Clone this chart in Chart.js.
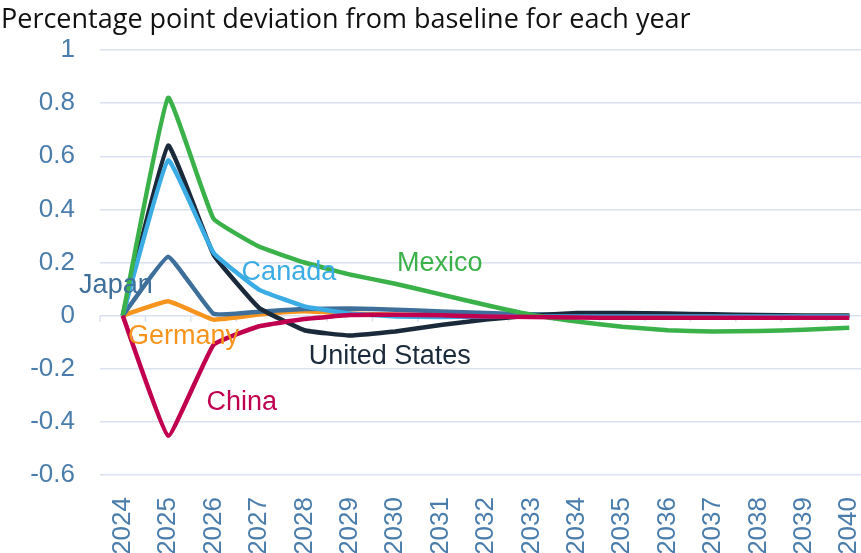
<!DOCTYPE html>
<html>
<head>
<meta charset="utf-8">
<script src="https://cdn.jsdelivr.net/npm/chart.js@4.4.1/dist/chart.umd.min.js"></script>
<style>
  html, body { margin: 0; padding: 0; background: #fff; overflow: hidden; width: 861px; height: 553px; }
  #chart { display: block; }
</style>
</head>
<body>
<canvas id="chart" width="880" height="553" style="width:880px;height:553px"></canvas>
<script>
// Chart data
const years = ['2024', '2025', '2026', '2027', '2028', '2029', '2030', '2031', '2032',
  '2033', '2034', '2035', '2036', '2037', '2038', '2039', '2040'];

const unitedStates = [0, 0.64, 0.23, 0.03, -0.055, -0.075, -0.06, -0.035, -0.015, 0, 0.01, 0.01, 0.008, 0.005, 0.002, 0, 0];
const mexico = [0, 0.82, 0.365, 0.26, 0.2, 0.155, 0.12, 0.08, 0.04, 0.003, -0.022, -0.042, -0.055, -0.06, -0.058, -0.053, -0.046];
const canada = [0, 0.585, 0.237, 0.098, 0.035, 0.008, -0.003, -0.005, -0.004, -0.003, -0.003, -0.003, -0.003, -0.003, -0.003, -0.003, -0.003];
const japan = [0, 0.222, 0.007, 0.015, 0.025, 0.027, 0.022, 0.016, 0.01, 0.005, 0.003, 0.002, 0.001, 0, 0, 0, 0];
const germany = [0, 0.054, -0.015, 0.004, 0.016, 0.008, 0.003, 0.001, 0, 0, 0, 0, 0, 0, 0, 0, 0];
const china = [0, -0.452, -0.11, -0.04, -0.013, 0.002, 0.003, 0.001, -0.003, -0.005, -0.007, -0.008, -0.008, -0.008, -0.008, -0.008, -0.008];

const yTicks = [1, 0.8, 0.6, 0.4, 0.2, 0, -0.2, -0.4, -0.6];

// Series labels drawn inside the plot (x = category index, y = value)
const seriesLabels = [
  { text: 'Japan', x: -0.15, y: 0.113, color: '#3e6f9b' },
  { text: 'Canada', x: 3.66, y: 0.162, color: '#3cade4' },
  { text: 'Mexico', x: 6.98, y: 0.196, color: '#3bb14a' },
  { text: 'Germany', x: 1.34, y: -0.079, color: '#f7941d' },
  { text: 'United States', x: 5.88, y: -0.154, color: '#1b2a3a' },
  { text: 'China', x: 2.62, y: -0.328, color: '#c0004f' }
];

const tickColor = '#4a7dac';
const gridColor = '#d9e2ee';

function series(label, data, color) {
  return {
    label, data,
    borderColor: color,
    backgroundColor: color,
    borderWidth: 4.5,
    pointRadius: 0,
    tension: 0.1,
    fill: false
  };
}

// Title, zero-line ticks and series labels
const decorations = {
  id: 'decorations',
  beforeDatasetsDraw(chart) {
    const { ctx, scales: { x, y } } = chart;
    ctx.save();
    // small tick marks on the zero line between categories
    const y0 = y.getPixelForValue(0);
    ctx.strokeStyle = gridColor;
    ctx.lineWidth = 1.5;
    for (let i = 0; i <= years.length; i++) {
      const px = x.getPixelForValue(i - 0.5);
      ctx.beginPath();
      ctx.moveTo(px, y0);
      ctx.lineTo(px, y0 + 6);
      ctx.stroke();
    }
    ctx.restore();
  },
  afterDatasetsDraw(chart) {
    const { ctx, scales: { x, y } } = chart;
    ctx.save();
    ctx.font = '27px "Liberation Sans", Arial, sans-serif';
    ctx.textAlign = 'center';
    ctx.textBaseline = 'middle';
    seriesLabels.forEach(l => {
      ctx.fillStyle = l.color;
      ctx.fillText(l.text, x.getPixelForValue(l.x), y.getPixelForValue(l.y));
    });

    ctx.fillStyle = '#111';
    ctx.font = '27px "Open Sans", sans-serif';
    ctx.textAlign = 'left';
    ctx.textBaseline = 'alphabetic';
    ctx.fillText('Percentage point deviation from baseline for each year', 1, 28);
    ctx.restore();
  }
};

const ctx = document.getElementById('chart').getContext('2d');
new Chart(ctx, {
  type: 'line',
  data: {
    labels: years,
    datasets: [
      series('China', china, '#c0004f'),
      series('Mexico', mexico, '#3bb14a'),
      series('Canada', canada, '#3cade4'),
      series('United States', unitedStates, '#1b2a3a'),
      series('Japan', japan, '#3e6f9b'),
      series('Germany', germany, '#f7941d')
    ]
  },
  options: {
    responsive: false,
    animation: false,
    layout: { padding: { top: 50, right: 8, bottom: 0, left: 0 } },
    plugins: {
      legend: { display: false },
      tooltip: { enabled: false },
      title: { display: false }
    },
    scales: {
      x: {
        offset: true,
        grid: { display: false },
        border: { display: false },
        ticks: {
          color: tickColor,
          font: { family: '"Liberation Sans", Arial, sans-serif', size: 26 },
          minRotation: 90,
          maxRotation: 90,
          padding: 14,
          autoSkip: false
        },
        afterFit(scale) {
          scale.height = 78;
          scale.paddingLeft = 0;
          scale.paddingRight = 0;
        }
      },
      y: {
        min: -0.6,
        max: 1,
        afterBuildTicks(scale) { scale.ticks = yTicks.map(v => ({ value: v })); },
        grid: { color: gridColor, lineWidth: 1.5, drawTicks: false },
        border: { display: false },
        ticks: {
          color: tickColor,
          font: { family: '"Liberation Sans", Arial, sans-serif', size: 26 },
          padding: 25,
          callback: v => String(Math.round(v * 10) / 10)
        },
        afterFit(scale) { scale.width = 100; }
      }
    }
  },
  plugins: [decorations]
});
</script>
</body>
</html>
